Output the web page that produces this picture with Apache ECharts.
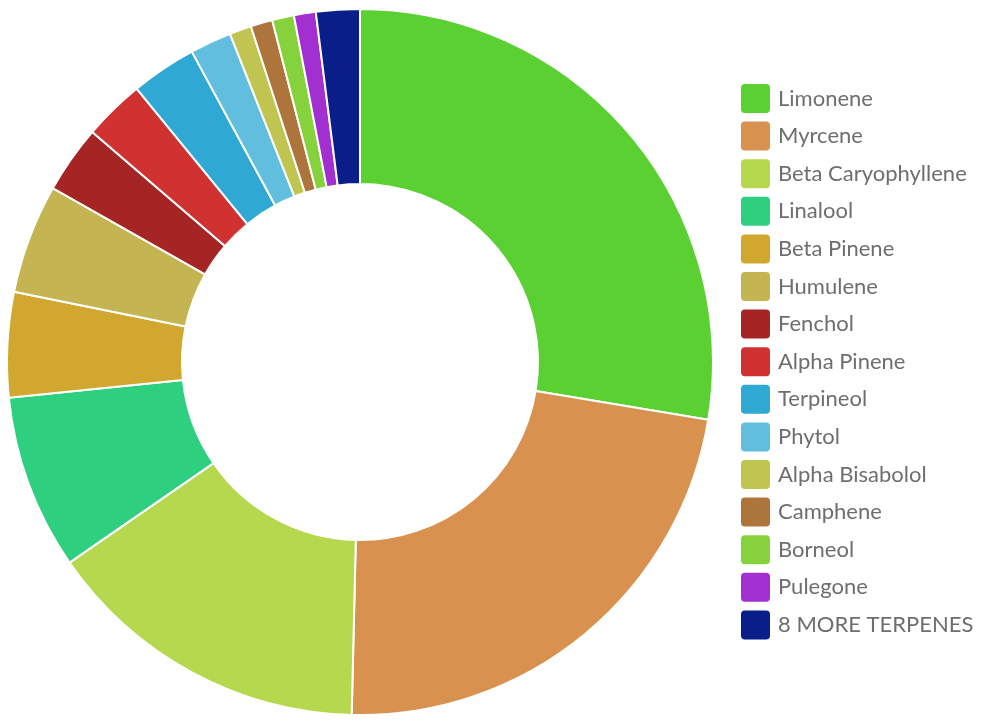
<!DOCTYPE html>
<html><head><meta charset="utf-8">
<script src="https://cdn.jsdelivr.net/npm/echarts@6/dist/echarts.min.js"></script>
<style>html,body{margin:0;padding:0;background:#fff}#c{width:981px;height:720px}</style>
</head><body><div id="c"></div>
<script>
const categories = ["Limonene","Myrcene","Beta Caryophyllene","Linalool","Beta Pinene","Humulene","Fenchol","Alpha Pinene","Terpineol","Phytol","Alpha Bisabolol","Camphene","Borneol","Pulegone","8 MORE TERPENES"];
const values = [27.6,22.75,15,8,4.8,5,3.1,2.8,3,1.9,1,1,1,1,2];
const colors = ["#5ad033","#d9914f","#b5d84f","#2fcf80","#d1a72f","#c5b552","#a52424","#d03232","#30a8d4","#62bede","#c0c450","#ad743c","#85d23c","#a22fd0","#0a1e8a"];
const chart = echarts.init(document.getElementById('c'));
chart.setOption({
  animation:false,
  color: colors,
  legend:{orient:'vertical',left:736,top:79,itemWidth:29,itemHeight:29,itemGap:8.6,
    icon:'path://M4,0 L25,0 Q29,0 29,4 L29,25 Q29,29 25,29 L4,29 Q0,29 0,25 L0,4 Q0,0 4,0 Z',
    itemStyle:{borderWidth:0},
    textStyle:{fontFamily:'Lato',fontSize:22,color:'#6e6e6e',padding:[0,0,0,3]},
    data:categories},
  series:[{type:'pie',center:[360,362],radius:[178,353],startAngle:90,clockwise:true,
    label:{show:false},labelLine:{show:false},
    itemStyle:{borderColor:'#fff',borderWidth:2},
    data:categories.map((n,i)=>({name:n,value:values[i]}))}]
});
</script></body></html>
